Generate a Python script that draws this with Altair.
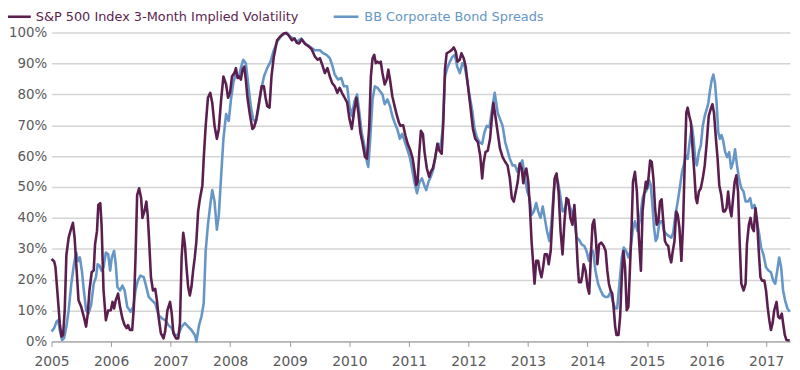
import altair as alt
import pandas as pd

# ---------------- data ----------------
SP_YEAR = [
    2005.000, 2005.044, 2005.066, 2005.100, 2005.138, 2005.166, 2005.193, 2005.221, 2005.249, 2005.287,
    2005.332, 2005.359, 2005.387, 2005.415, 2005.453, 2005.498, 2005.542, 2005.580, 2005.608, 2005.636,
    2005.674, 2005.708, 2005.730, 2005.763, 2005.785, 2005.818, 2005.840, 2005.873, 2005.912, 2005.951,
    2005.995, 2006.023, 2006.050, 2006.078, 2006.117, 2006.150, 2006.189, 2006.227, 2006.260, 2006.283,
    2006.316, 2006.354, 2006.382, 2006.410, 2006.437, 2006.470, 2006.504, 2006.526, 2006.559, 2006.592,
    2006.614, 2006.636, 2006.669, 2006.703, 2006.741, 2006.769, 2006.797, 2006.835, 2006.880, 2006.907,
    2006.946, 2006.990, 2007.018, 2007.045, 2007.090, 2007.128, 2007.156, 2007.184, 2007.211, 2007.239,
    2007.266, 2007.294, 2007.322, 2007.349, 2007.377, 2007.405, 2007.432, 2007.461, 2007.488, 2007.533,
    2007.555, 2007.588, 2007.626, 2007.665, 2007.698, 2007.737, 2007.776, 2007.809, 2007.848, 2007.886,
    2007.931, 2007.964, 2007.997, 2008.030, 2008.069, 2008.096, 2008.124, 2008.152, 2008.179, 2008.207,
    2008.235, 2008.262, 2008.290, 2008.329, 2008.373, 2008.400, 2008.439, 2008.483, 2008.528, 2008.566,
    2008.594, 2008.621, 2008.660, 2008.693, 2008.732, 2008.787, 2008.843, 2008.898, 2008.937, 2008.981,
    2009.036, 2009.080, 2009.119, 2009.158, 2009.202, 2009.257, 2009.312, 2009.368, 2009.423, 2009.467,
    2009.506, 2009.545, 2009.589, 2009.633, 2009.672, 2009.711, 2009.755, 2009.799, 2009.838, 2009.876,
    2009.921, 2009.964, 2010.003, 2010.042, 2010.086, 2010.119, 2010.152, 2010.185, 2010.224, 2010.263,
    2010.296, 2010.335, 2010.362, 2010.390, 2010.418, 2010.445, 2010.473, 2010.500, 2010.528, 2010.556,
    2010.594, 2010.628, 2010.655, 2010.683, 2010.722, 2010.760, 2010.793, 2010.832, 2010.860, 2010.904,
    2010.943, 2010.981, 2011.026, 2011.064, 2011.097, 2011.125, 2011.147, 2011.175, 2011.202, 2011.236,
    2011.263, 2011.302, 2011.341, 2011.368, 2011.401, 2011.440, 2011.479, 2011.512, 2011.551, 2011.578,
    2011.606, 2011.634, 2011.678, 2011.717, 2011.755, 2011.788, 2011.816, 2011.855, 2011.882, 2011.921,
    2011.954, 2011.993, 2012.032, 2012.076, 2012.115, 2012.159, 2012.198, 2012.231, 2012.253, 2012.286,
    2012.325, 2012.363, 2012.397, 2012.419, 2012.452, 2012.491, 2012.530, 2012.574, 2012.618, 2012.657,
    2012.695, 2012.729, 2012.762, 2012.795, 2012.828, 2012.861, 2012.894, 2012.922, 2012.944, 2012.972,
    2013.005, 2013.033, 2013.060, 2013.088, 2013.110, 2013.138, 2013.171, 2013.199, 2013.226, 2013.254,
    2013.281, 2013.320, 2013.348, 2013.381, 2013.414, 2013.447, 2013.480, 2013.514, 2013.547, 2013.580,
    2013.613, 2013.646, 2013.679, 2013.712, 2013.746, 2013.779, 2013.801, 2013.834, 2013.856, 2013.890,
    2013.912, 2013.934, 2013.967, 2014.000, 2014.028, 2014.055, 2014.083, 2014.111, 2014.138, 2014.166,
    2014.194, 2014.232, 2014.271, 2014.304, 2014.332, 2014.359, 2014.387, 2014.415, 2014.442, 2014.464,
    2014.486, 2014.520, 2014.547, 2014.575, 2014.603, 2014.630, 2014.658, 2014.686, 2014.713, 2014.741,
    2014.763, 2014.796, 2014.829, 2014.862, 2014.896, 2014.924, 2014.951, 2014.979, 2014.996, 2015.023,
    2015.051, 2015.078, 2015.106, 2015.134, 2015.161, 2015.189, 2015.217, 2015.244, 2015.272, 2015.300,
    2015.327, 2015.355, 2015.382, 2015.405, 2015.432, 2015.460, 2015.488, 2015.515, 2015.543, 2015.576,
    2015.604, 2015.631, 2015.659, 2015.681, 2015.709, 2015.736, 2015.764, 2015.792, 2015.819, 2015.841,
    2015.869, 2015.902, 2015.935, 2015.968, 2016.002, 2016.035, 2016.068, 2016.096, 2016.123, 2016.156,
    2016.184, 2016.212, 2016.245, 2016.278, 2016.306, 2016.333, 2016.361, 2016.389, 2016.416, 2016.444,
    2016.471, 2016.499, 2016.527, 2016.554, 2016.582, 2016.621, 2016.654, 2016.676, 2016.709, 2016.737,
    2016.764, 2016.792, 2016.820, 2016.847, 2016.875, 2016.903, 2016.930, 2016.969, 2016.997, 2017.024,
    2017.052, 2017.080, 2017.107, 2017.135, 2017.174, 2017.201, 2017.229, 2017.262, 2017.284, 2017.312,
    2017.339, 2017.395,
]
SP_VALUE = [
    26.7, 25.9, 24.0, 15.5, 5.9, 1.6, 2.0, 10.0, 28.0, 33.6,
    36.8, 38.4, 33.6, 25.0, 13.3, 11.2, 8.0, 4.8, 9.0, 16.5,
    22.4, 23.0, 31.4, 35.7, 44.2, 44.8, 37.8, 16.5, 6.9, 10.0,
    10.1, 12.8, 10.7, 13.3, 15.5, 11.2, 7.5, 5.3, 4.3, 5.3,
    3.7, 3.7, 11.2, 27.2, 47.4, 49.6, 46.4, 40.0, 42.1, 45.3,
    41.0, 33.6, 20.8, 16.5, 17.0, 13.3, 8.0, 2.7, 1.0, 3.2,
    10.1, 12.8, 9.0, 2.7, 1.0, 1.0, 5.9, 27.2, 35.2, 31.4,
    24.0, 17.6, 14.9, 17.6, 22.9, 27.2, 32.5, 42.1, 45.8, 50.6,
    59.2, 69.8, 78.9, 80.5, 77.3, 69.8, 65.6, 68.8, 78.4, 85.8,
    83.2, 78.9, 80.5, 85.8, 86.9, 88.5, 85.3, 85.8, 84.8, 88.0,
    89.0, 84.8, 78.9, 73.6, 68.8, 69.3, 72.0, 77.3, 82.6, 82.6,
    78.9, 76.2, 75.7, 85.8, 92.2, 97.5, 98.8, 99.7, 99.9, 99.1,
    97.5, 98.1, 96.7, 96.5, 97.8, 96.3, 95.6, 94.6, 92.2, 91.2,
    91.7, 89.6, 86.9, 88.5, 85.8, 83.7, 82.6, 80.5, 82.1, 80.5,
    78.9, 77.3, 72.0, 68.8, 75.2, 78.9, 74.1, 67.7, 64.0, 59.7,
    59.2, 69.8, 85.8, 91.7, 92.8, 90.1, 90.6, 90.1, 90.6, 86.9,
    83.2, 84.8, 88.0, 84.8, 79.4, 76.2, 73.6, 70.9, 69.8, 70.0,
    66.6, 64.0, 61.8, 59.2, 54.9, 50.6, 51.8, 61.3, 68.2, 67.1,
    61.3, 56.0, 53.3, 54.9, 56.0, 59.2, 64.0, 61.8, 60.8, 70.9,
    88.0, 93.3, 93.8, 94.3, 95.2, 93.8, 90.6, 91.2, 93.3, 91.7,
    89.0, 82.6, 76.2, 68.8, 65.6, 64.5, 60.2, 52.8, 57.6, 61.3,
    61.8, 65.6, 73.0, 77.3, 73.0, 67.7, 62.4, 59.7, 58.1, 57.0,
    52.8, 46.4, 45.3, 48.5, 51.7, 57.6, 56.0, 51.2, 54.4, 56.0,
    51.7, 43.2, 32.5, 25.0, 18.7, 26.1, 26.1, 22.9, 20.8, 24.0,
    28.2, 28.2, 25.0, 29.3, 41.0, 52.8, 54.4, 48.5, 35.7, 28.2,
    38.9, 46.4, 45.8, 40.0, 37.8, 44.2, 37.8, 25.0, 19.2, 19.2,
    21.3, 25.0, 22.9, 17.6, 15.5, 27.2, 37.8, 39.4, 33.6, 25.0,
    31.4, 32.0, 30.9, 29.3, 22.9, 18.7, 16.5, 15.5, 10.1, 4.8,
    2.1, 2.1, 8.0, 20.8, 29.3, 24.0, 10.1, 11.2, 24.0, 37.8,
    51.7, 54.9, 48.5, 33.6, 22.9, 42.1, 47.4, 51.7, 49.6, 52.8,
    58.6, 58.1, 52.8, 43.2, 37.8, 38.9, 45.3, 46.0, 38.9, 32.5,
    31.4, 30.9, 27.2, 25.6, 29.3, 32.5, 42.1, 41.0, 36.8, 26.1,
    37.8, 57.0, 74.1, 75.7, 73.0, 70.9, 62.4, 54.9, 46.4, 44.8,
    48.5, 49.6, 52.8, 57.0, 64.5, 73.0, 75.2, 76.8, 74.1, 65.6,
    59.2, 50.6, 47.4, 42.1, 42.1, 43.2, 48.5, 43.2, 40.5, 46.4,
    51.7, 53.8, 48.5, 32.5, 18.7, 16.5, 18.7, 31.4, 37.8, 40.0,
    36.8, 35.7, 43.2, 38.9, 29.3, 20.8, 19.7, 19.7, 16.5, 11.2,
    6.9, 3.7, 5.9, 10.1, 12.8, 8.0, 7.5, 9.0, 5.9, 2.1,
    0.5, 0.3,
]

BB_YEAR = [
    2005.000, 2005.044, 2005.083, 2005.111, 2005.138, 2005.177, 2005.210, 2005.249, 2005.287, 2005.332,
    2005.376, 2005.415, 2005.442, 2005.475, 2005.509, 2005.542, 2005.580, 2005.619, 2005.663, 2005.708,
    2005.746, 2005.774, 2005.807, 2005.840, 2005.873, 2005.912, 2005.951, 2005.984, 2006.012, 2006.050,
    2006.078, 2006.106, 2006.150, 2006.189, 2006.227, 2006.271, 2006.327, 2006.371, 2006.410, 2006.448,
    2006.493, 2006.548, 2006.592, 2006.631, 2006.686, 2006.741, 2006.797, 2006.852, 2006.907, 2006.962,
    2007.018, 2007.073, 2007.128, 2007.184, 2007.239, 2007.294, 2007.349, 2007.405, 2007.433, 2007.477,
    2007.516, 2007.555, 2007.588, 2007.626, 2007.665, 2007.698, 2007.737, 2007.776, 2007.809, 2007.848,
    2007.886, 2007.931, 2007.975, 2008.013, 2008.052, 2008.096, 2008.141, 2008.179, 2008.218, 2008.262,
    2008.306, 2008.345, 2008.384, 2008.428, 2008.472, 2008.511, 2008.566, 2008.621, 2008.677, 2008.732,
    2008.787, 2008.843, 2008.898, 2008.953, 2009.009, 2009.064, 2009.119, 2009.191, 2009.257, 2009.340,
    2009.423, 2009.506, 2009.561, 2009.617, 2009.672, 2009.711, 2009.755, 2009.810, 2009.865, 2009.909,
    2009.964, 2010.003, 2010.042, 2010.086, 2010.130, 2010.169, 2010.207, 2010.252, 2010.296, 2010.318,
    2010.351, 2010.390, 2010.429, 2010.473, 2010.517, 2010.556, 2010.594, 2010.639, 2010.683, 2010.722,
    2010.760, 2010.804, 2010.849, 2010.887, 2010.926, 2010.970, 2011.015, 2011.053, 2011.092, 2011.136,
    2011.180, 2011.219, 2011.258, 2011.291, 2011.330, 2011.368, 2011.413, 2011.457, 2011.495, 2011.534,
    2011.567, 2011.606, 2011.645, 2011.689, 2011.733, 2011.772, 2011.811, 2011.855, 2011.899, 2011.938,
    2011.976, 2012.021, 2012.065, 2012.103, 2012.142, 2012.186, 2012.231, 2012.269, 2012.308, 2012.352,
    2012.397, 2012.441, 2012.491, 2012.530, 2012.574, 2012.618, 2012.657, 2012.695, 2012.740, 2012.784,
    2012.823, 2012.861, 2012.906, 2012.950, 2012.988, 2013.027, 2013.060, 2013.099, 2013.138, 2013.171,
    2013.210, 2013.248, 2013.281, 2013.320, 2013.359, 2013.392, 2013.431, 2013.469, 2013.503, 2013.541,
    2013.580, 2013.613, 2013.652, 2013.690, 2013.735, 2013.779, 2013.818, 2013.856, 2013.901, 2013.945,
    2013.983, 2014.022, 2014.055, 2014.094, 2014.133, 2014.177, 2014.221, 2014.260, 2014.299, 2014.343,
    2014.387, 2014.426, 2014.464, 2014.497, 2014.536, 2014.575, 2014.608, 2014.647, 2014.686, 2014.719,
    2014.757, 2014.796, 2014.840, 2014.884, 2014.924, 2014.951, 2014.979, 2015.007, 2015.034, 2015.062,
    2015.089, 2015.117, 2015.145, 2015.172, 2015.200, 2015.228, 2015.255, 2015.283, 2015.327, 2015.366,
    2015.405, 2015.438, 2015.476, 2015.515, 2015.548, 2015.587, 2015.615, 2015.648, 2015.681, 2015.714,
    2015.753, 2015.780, 2015.808, 2015.836, 2015.869, 2015.902, 2015.935, 2015.968, 2016.002, 2016.029,
    2016.057, 2016.085, 2016.112, 2016.140, 2016.167, 2016.195, 2016.223, 2016.250, 2016.278, 2016.311,
    2016.344, 2016.378, 2016.411, 2016.444, 2016.477, 2016.510, 2016.543, 2016.582, 2016.621, 2016.654,
    2016.693, 2016.731, 2016.764, 2016.803, 2016.831, 2016.875, 2016.914, 2016.952, 2016.997, 2017.041,
    2017.080, 2017.118, 2017.152, 2017.185, 2017.218, 2017.251, 2017.284, 2017.317, 2017.356, 2017.395,
]
BB_VALUE = [
    3.2, 4.3, 6.4, 6.9, 3.7, 0.5, 1.0, 4.8, 10.1, 18.7,
    25.0, 28.8, 26.0, 27.2, 22.9, 16.5, 10.1, 9.0, 11.7, 18.7,
    20.8, 25.0, 24.5, 22.9, 24.0, 28.8, 28.2, 22.9, 27.2, 29.3,
    25.0, 17.6, 16.5, 18.1, 16.5, 11.2, 9.6, 11.2, 16.5, 19.7,
    21.3, 20.8, 17.6, 14.4, 13.3, 12.3, 8.5, 7.5, 6.9, 5.3,
    4.3, 2.1, 2.1, 4.8, 5.9, 4.8, 3.7, 2.1, 0.0, 5.3,
    8.0, 12.3, 29.3, 37.8, 44.2, 49.0, 45.3, 36.2, 41.0, 53.8,
    65.6, 73.6, 71.4, 78.4, 83.7, 86.9, 85.3, 88.5, 91.2, 90.1,
    82.6, 76.2, 72.0, 70.9, 75.2, 80.5, 85.8, 88.5, 90.6, 94.3,
    97.0, 98.6, 99.5, 99.9, 98.6, 98.1, 97.0, 98.1, 96.5, 95.4,
    94.3, 94.3, 93.3, 92.8, 91.7, 89.6, 86.4, 84.8, 85.3, 82.6,
    82.6, 76.2, 73.0, 77.8, 80.0, 74.1, 67.7, 63.4, 58.1, 56.5,
    65.6, 78.4, 82.6, 82.1, 81.0, 80.0, 76.8, 78.4, 76.2, 73.0,
    70.9, 68.8, 65.6, 67.2, 65.0, 62.4, 59.7, 56.0, 51.7, 48.0,
    51.7, 52.8, 50.6, 49.0, 51.7, 53.3, 56.0, 61.3, 64.0, 62.8,
    68.8, 85.8, 88.5, 90.6, 92.2, 92.8, 89.0, 86.9, 90.1, 89.0,
    84.8, 79.4, 74.6, 68.8, 66.1, 64.5, 64.0, 67.7, 69.8, 69.3,
    75.2, 80.5, 74.1, 72.0, 69.8, 64.5, 61.8, 59.2, 57.0, 57.0,
    54.9, 57.0, 58.6, 52.8, 48.5, 46.4, 41.0, 42.1, 44.8, 42.1,
    40.0, 43.7, 40.0, 35.7, 32.5, 37.8, 48.5, 53.8, 51.7, 47.4,
    42.1, 42.6, 45.3, 44.2, 42.1, 38.9, 33.6, 33.0, 31.4, 30.9,
    29.3, 26.1, 29.3, 29.3, 22.9, 18.7, 16.5, 14.9, 14.4, 14.4,
    16.0, 12.8, 10.7, 10.7, 18.7, 27.2, 30.4, 29.3, 27.2, 29.3,
    35.7, 38.9, 35.7, 40.0, 46.4, 48.0, 48.5, 49.6, 52.2, 50.6,
    44.2, 36.8, 32.5, 33.6, 37.8, 38.9, 38.9, 35.7, 34.7, 34.1,
    33.6, 35.2, 41.0, 45.3, 49.6, 54.9, 57.0, 60.2, 59.1, 64.5,
    69.8, 65.6, 59.2, 57.0, 61.3, 63.4, 69.8, 73.0, 75.2, 77.3,
    81.4, 84.6, 86.4, 83.7, 77.3, 67.7, 65.6, 66.8, 65.0, 61.3,
    59.7, 61.3, 56.0, 58.1, 62.2, 57.0, 52.8, 49.6, 48.5, 45.3,
    45.3, 46.4, 43.2, 44.2, 40.0, 35.7, 30.4, 28.2, 24.0, 22.9,
    22.4, 19.7, 18.7, 22.9, 27.2, 24.0, 16.5, 13.3, 10.7, 9.6,
]

SERIES = ["S&P 500 Index 3-Month Implied Volatility", "BB Corporate Bond Spreads"]
COLORS = ["#5a1f4f", "#6596c6"]
X_TICKS = list(range(2005, 2018))
Y_TICKS = list(range(0, 101, 10))

FONT = "DejaVu Sans"
LABEL_COLOR = "#5a5a5c"

sp = pd.DataFrame({"year": SP_YEAR, "value": SP_VALUE, "series": SERIES[0]})
bb = pd.DataFrame({"year": BB_YEAR, "value": BB_VALUE, "series": SERIES[1]})
legend_df = pd.DataFrame({"label": SERIES, "color": COLORS})

x_enc = alt.X(
    "year:Q",
    scale=alt.Scale(domain=[2005, 2017.4], nice=False, zero=False),
    axis=alt.Axis(
        values=X_TICKS, format="d", title=None, grid=False,
        domainColor="#9a9a9a", domainWidth=1, tickColor="#9a9a9a", tickSize=5,
        labelFont=FONT, labelFontSize=14, labelColor=LABEL_COLOR, labelPadding=8,
        labelFlush=False, labelOverlap=False,
    ),
)
y_enc = alt.Y(
    "value:Q",
    scale=alt.Scale(domain=[0, 100], nice=False),
    axis=alt.Axis(
        values=Y_TICKS, labelExpr="datum.value + '%'", title=None,
        domain=False, ticks=False, grid=True, gridColor="#d4d4d4", gridWidth=1.5,
        labelFont=FONT, labelFontSize=13.5, labelColor=LABEL_COLOR, labelPadding=5,
    ),
)

bb_line = alt.Chart(bb).mark_line(
    color=COLORS[1], strokeWidth=2.6, strokeJoin="round"
).encode(x=x_enc, y=y_enc)

sp_line = alt.Chart(sp).mark_line(
    color=COLORS[0], strokeWidth=2.6, strokeJoin="round"
).encode(x=x_enc, y=y_enc)

# legend (drawn manually, above the plot) -- one row per legend item
leg_y = -16
leg_sp = legend_df.iloc[[0]]
leg_bb = legend_df.iloc[[1]]

leg1_line = alt.Chart(leg_sp).mark_rule(color=COLORS[0], strokeWidth=2.6).encode(
    x=alt.value(-44), x2=alt.value(-21), y=alt.value(leg_y)
)
leg1_text = alt.Chart(leg_sp).mark_text(
    align="left", baseline="middle", font=FONT, fontSize=13, color=COLORS[0]
).encode(text="label:N", x=alt.value(-16), y=alt.value(leg_y))
leg2_line = alt.Chart(leg_bb).mark_rule(color=COLORS[1], strokeWidth=2.6).encode(
    x=alt.value(285), x2=alt.value(310), y=alt.value(leg_y)
)
leg2_text = alt.Chart(leg_bb).mark_text(
    align="left", baseline="middle", font=FONT, fontSize=13, color=COLORS[1]
).encode(text="label:N", x=alt.value(316), y=alt.value(leg_y))

chart = (
    alt.layer(bb_line, sp_line, leg1_line, leg1_text, leg2_line, leg2_text)
    .properties(
        width=746, height=312,
        padding={"left": 44, "top": 23, "right": 2, "bottom": 26},
        autosize=alt.AutoSizeParams(type="none"),
        background="#ffffff",
    )
    .configure_view(stroke=None)
)

chart.save("out.html", embed_options={"renderer": "svg", "actions": False})
